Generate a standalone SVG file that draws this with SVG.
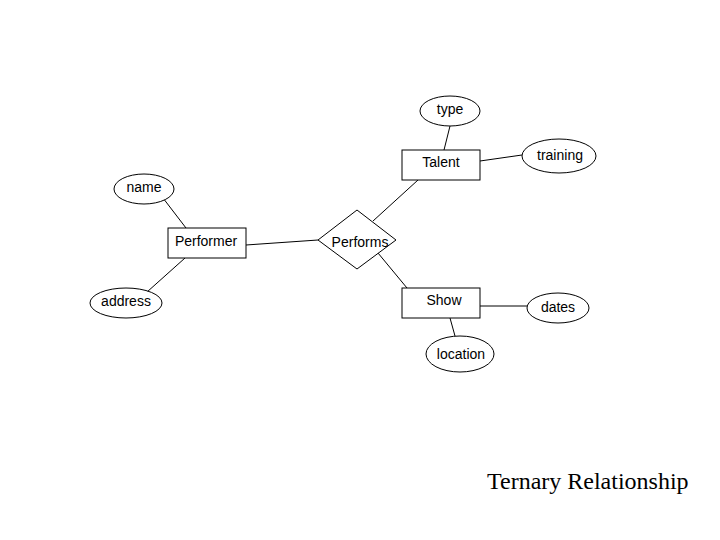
<svg xmlns="http://www.w3.org/2000/svg" width="720" height="540" viewBox="0 0 720 540">
<style>
.s{fill:#fff;stroke:#000;stroke-width:1}
.t{font-family:"Liberation Sans",Arial,sans-serif;font-size:14px;fill:#000;text-anchor:middle}
.c line{stroke:#000;stroke-width:1}
</style>
<rect width="720" height="540" fill="#fff"/>
<g class="c" id="connectors">
<line x1="163" y1="198" x2="186" y2="228"/>
<line x1="147" y1="292" x2="185" y2="258"/>
<line x1="246" y1="245" x2="318" y2="240"/>
<line x1="373" y1="221" x2="418" y2="180"/>
<line x1="378" y1="253" x2="407" y2="288"/>
<line x1="450" y1="126" x2="444" y2="150"/>
<line x1="480" y1="161" x2="522" y2="155"/>
<line x1="480" y1="306" x2="527" y2="306"/>
<line x1="450" y1="318" x2="455" y2="336"/>
</g>
<g id="performer"><rect class="s" x="168" y="228" width="78" height="30"/><text class="t" x="206" y="246">Performer</text></g>
<g id="performs"><polygon class="s" points="318,240 357,210 396,240 357,269"/><text class="t" x="360" y="247">Performs</text></g>
<g id="talent"><rect class="s" x="402" y="150" width="78" height="30"/><text class="t" x="441" y="167">Talent</text></g>
<g id="show"><rect class="s" x="402" y="288" width="78" height="30"/><text class="t" x="444" y="305">Show</text></g>
<g id="name"><ellipse class="s" cx="144" cy="189" rx="30" ry="15"/><text class="t" x="144" y="192">name</text></g>
<g id="address"><ellipse class="s" cx="126" cy="303" rx="36" ry="15"/><text class="t" x="126" y="306">address</text></g>
<g id="type"><ellipse class="s" cx="450" cy="111" rx="30" ry="15"/><text class="t" x="450" y="114">type</text></g>
<g id="training"><ellipse class="s" cx="559" cy="156" rx="37" ry="17"/><text class="t" x="560" y="160">training</text></g>
<g id="dates"><ellipse class="s" cx="558" cy="308" rx="31" ry="15"/><text class="t" x="558" y="312">dates</text></g>
<g id="location"><ellipse class="s" cx="460" cy="354" rx="34" ry="18"/><text class="t" x="461" y="359">location</text></g>
<text x="487" y="489" font-family="'Liberation Serif','Times New Roman',serif" font-size="24" fill="#000">Ternary Relationship</text>
</svg>
